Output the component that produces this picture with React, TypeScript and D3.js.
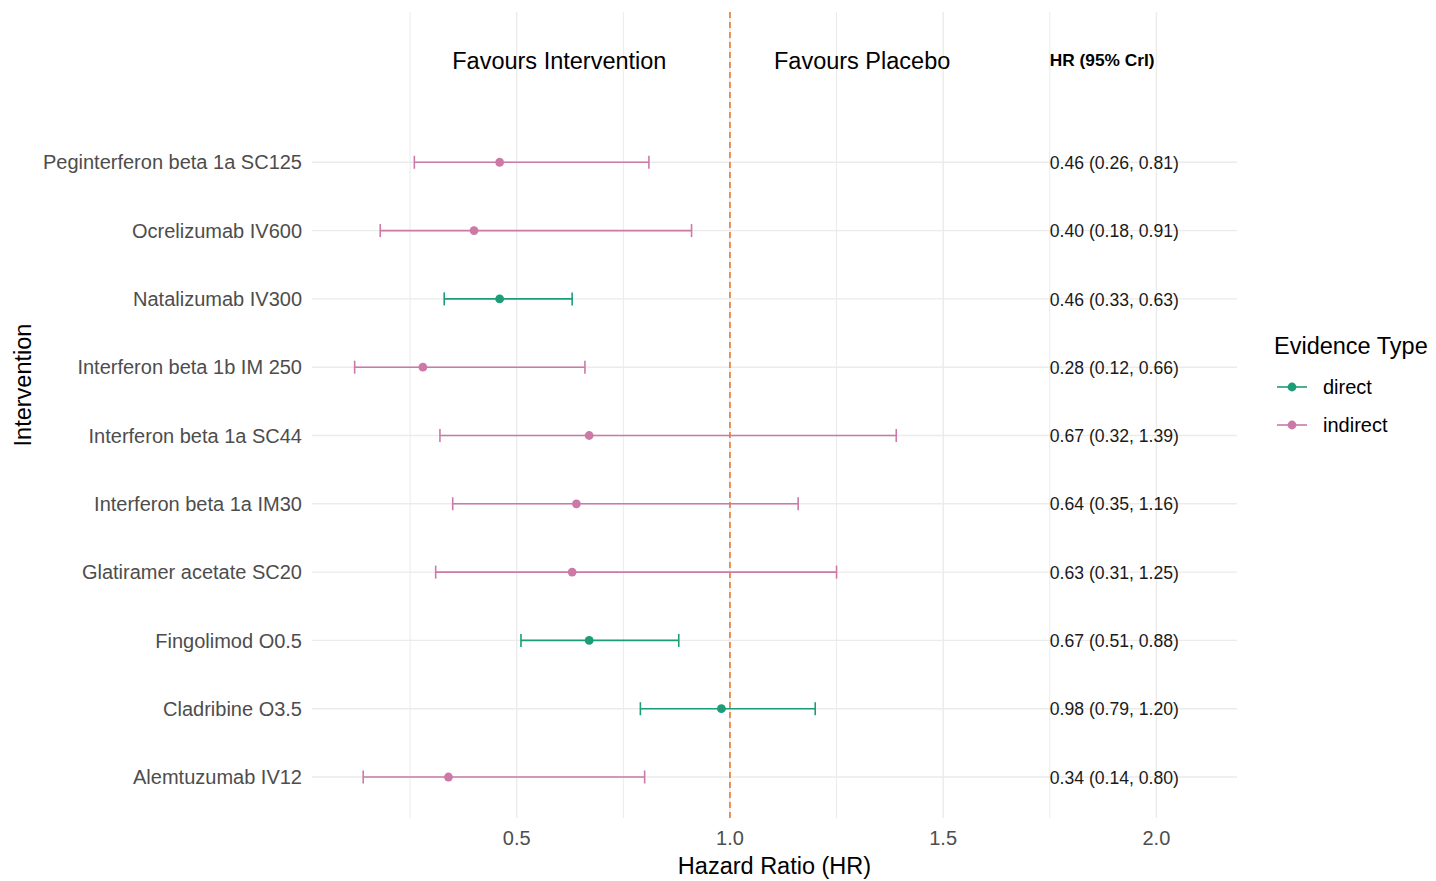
import React from 'react';
import * as d3 from 'd3';

// intervention rows, top to bottom
const interventions = [
  'Peginterferon beta 1a SC125',
  'Ocrelizumab IV600',
  'Natalizumab IV300',
  'Interferon beta 1b IM 250',
  'Interferon beta 1a SC44',
  'Interferon beta 1a IM30',
  'Glatiramer acetate SC20',
  'Fingolimod O0.5',
  'Cladribine O3.5',
  'Alemtuzumab IV12',
];
const hr = [0.46, 0.40, 0.46, 0.28, 0.67, 0.64, 0.63, 0.67, 0.98, 0.34];
const lower = [0.26, 0.18, 0.33, 0.12, 0.32, 0.35, 0.31, 0.51, 0.79, 0.14];
const upper = [0.81, 0.91, 0.63, 0.66, 1.39, 1.16, 1.25, 0.88, 1.20, 0.80];
const evidence = ['indirect', 'indirect', 'direct', 'indirect', 'indirect', 'indirect', 'indirect', 'direct', 'direct', 'indirect'];

const evidenceTypes = ['direct', 'indirect'];
const xTicks = [0.5, 1.0, 1.5, 2.0];
const xMinor = [0.25, 0.75, 1.25, 1.75];

const W = 1436;
const H = 881;
const panel = { left: 312, right: 1237, top: 12, bottom: 818 };

const FONT = '"Liberation Sans", Arial, sans-serif';

export default function App() {
  const x = d3.scaleLinear().domain([0.02, 2.189]).range([panel.left, panel.right]);
  // row 1 = bottom row, row 10 = top row; header row at 11.5
  const y = d3.scaleLinear().domain([0.4, 12.2]).range([panel.bottom, panel.top]);
  const color = d3.scaleOrdinal<string, string>().domain(evidenceTypes).range(['#1B9E77', '#CC79A7']);

  const n = interventions.length;
  const rowY = (i: number) => y(n - i);
  const headerY = y(11.5);
  const cap = 6.5;

  return (
    <svg width={W} height={H} style={{ position: 'absolute', left: 0, top: 0, background: '#fff' }} fontFamily={FONT}>
      {/* grid */}
      {xMinor.map((v) => (
        <line key={'mn' + v} x1={x(v)} x2={x(v)} y1={panel.top} y2={panel.bottom} stroke="#EBEBEB" strokeWidth={1} />
      ))}
      {xTicks.map((v) => (
        <line key={'mj' + v} x1={x(v)} x2={x(v)} y1={panel.top} y2={panel.bottom} stroke="#EBEBEB" strokeWidth={1.4} />
      ))}
      {interventions.map((d, i) => (
        <line key={'hg' + d} x1={panel.left} x2={panel.right} y1={rowY(i)} y2={rowY(i)} stroke="#EBEBEB" strokeWidth={1.4} />
      ))}

      {/* reference line */}
      <line x1={x(1)} x2={x(1)} y1={panel.top} y2={panel.bottom} stroke="#E8833A" strokeWidth={1.7} strokeDasharray="6,4" />

      {/* error bars and points */}
      {interventions.map((d, i) => {
        const c = color(evidence[i]);
        const yy = rowY(i);
        return (
          <g key={'eb' + d}>
            <line x1={x(lower[i])} x2={x(upper[i])} y1={yy} y2={yy} stroke={c} strokeWidth={1.6} />
            <line x1={x(lower[i])} x2={x(lower[i])} y1={yy - cap} y2={yy + cap} stroke={c} strokeWidth={1.6} />
            <line x1={x(upper[i])} x2={x(upper[i])} y1={yy - cap} y2={yy + cap} stroke={c} strokeWidth={1.6} />
            <circle cx={x(hr[i])} cy={yy} r={4.4} fill={c} />
          </g>
        );
      })}

      {/* header annotations */}
      <text x={x(0.6)} y={headerY} dy="0.38em" textAnchor="middle" fontSize={23.5} fill="#000">Favours Intervention</text>
      <text x={x(1.31)} y={headerY} dy="0.38em" textAnchor="middle" fontSize={23.5} fill="#000">Favours Placebo</text>
      <text x={x(1.75)} y={headerY} dy="0.38em" fontSize={17.3} fontWeight="bold" fill="#000">HR (95% CrI)</text>

      {/* HR labels */}
      {interventions.map((d, i) => (
        <text key={'hr' + d} x={x(1.75)} y={rowY(i)} dy="0.38em" fontSize={17.6} fill="#1A1A1A">
          {`${hr[i].toFixed(2)} (${lower[i].toFixed(2)}, ${upper[i].toFixed(2)})`}
        </text>
      ))}

      {/* y axis labels */}
      {interventions.map((d, i) => (
        <text key={'yl' + d} x={302} y={rowY(i)} dy="0.36em" textAnchor="end" fontSize={20} fill="#4D4D4D">{d}</text>
      ))}

      {/* x axis tick labels */}
      {xTicks.map((v) => (
        <text key={'xt' + v} x={x(v)} y={838} dy="0.36em" textAnchor="middle" fontSize={20} fill="#4D4D4D">{v.toFixed(1)}</text>
      ))}

      {/* axis titles */}
      <text x={(panel.left + panel.right) / 2} y={866} dy="0.36em" textAnchor="middle" fontSize={23.5} fill="#000">Hazard Ratio (HR)</text>
      <text transform={`translate(23,385) rotate(-90)`} dy="0.36em" textAnchor="middle" fontSize={23.5} fill="#000">Intervention</text>

      {/* legend */}
      <text x={1274} y={346} dy="0.36em" fontSize={23.5} fill="#000">Evidence Type</text>
      {evidenceTypes.map((t, i) => {
        const ly = 387 + i * 38;
        return (
          <g key={'lg' + t}>
            <line x1={1277} x2={1307} y1={ly} y2={ly} stroke={color(t)} strokeWidth={1.6} />
            <circle cx={1292} cy={ly} r={4.4} fill={color(t)} />
            <text x={1323} y={ly} dy="0.36em" fontSize={20} fill="#000">{t}</text>
          </g>
        );
      })}
    </svg>
  );
}
